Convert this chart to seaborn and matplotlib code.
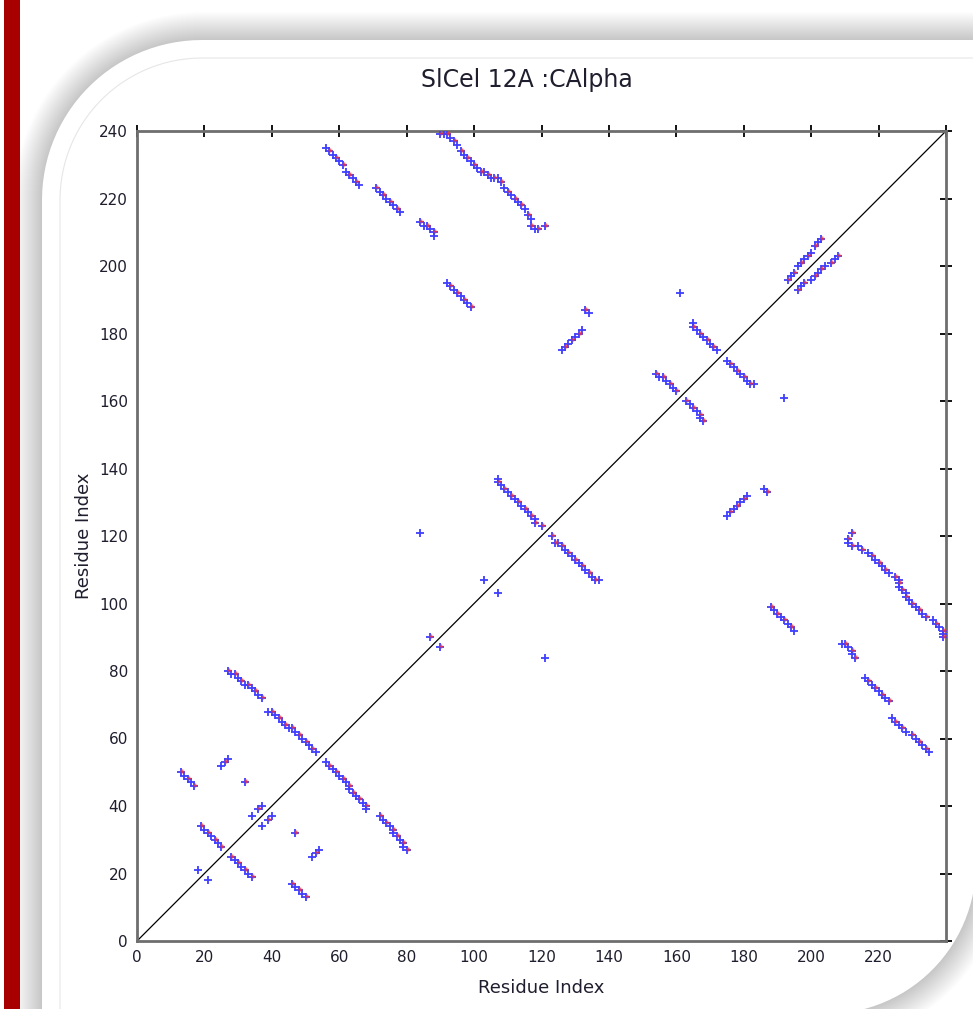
import matplotlib
matplotlib.use("Agg")
import matplotlib.pyplot as plt
import matplotlib.transforms as mtransforms
from matplotlib.patches import PathPatch, Rectangle
from matplotlib.path import Path
from matplotlib.lines import Line2D
import numpy as np
import seaborn as sns
import pandas as pd

# contact pairs (i < j); the map is drawn symmetric
hairpin_a = [(27, 80), (28, 79), (29, 79), (30, 78), (31, 77), (32, 76), (33, 76),
             (34, 75), (35, 74), (36, 73), (37, 72)]
hairpin_b = [(39, 68), (40, 68), (41, 67), (42, 66), (43, 65), (44, 64), (45, 63),
             (46, 63), (47, 62), (48, 61), (49, 60), (50, 59), (51, 58), (52, 57), (53, 56)]
strand_e = [(13, 50), (14, 49), (15, 48), (16, 47), (17, 46)]
strand_f = [(25, 52), (26, 53), (27, 54)]
strand_g = [(19, 34), (20, 33), (21, 32), (22, 31), (23, 30), (24, 29), (25, 28)]
strand_h = [(56, 235), (57, 234), (58, 233), (59, 232), (60, 231), (61, 230), (62, 228),
            (63, 227), (64, 226), (65, 225), (66, 224)]
strand_i = [(71, 223), (72, 222), (73, 221), (74, 220), (75, 219), (76, 218), (77, 217), (78, 216)]
strand_j = [(84, 213), (85, 212), (86, 212), (87, 211), (88, 210), (88, 209)]
strand_k = [(90, 239), (91, 239), (92, 239), (93, 238), (94, 237), (95, 236), (96, 234),
            (97, 233), (98, 232), (99, 231), (100, 230), (101, 229), (102, 228), (103, 228),
            (104, 227), (105, 226), (106, 226), (107, 226), (108, 225), (109, 223), (110, 222),
            (111, 221), (112, 220), (113, 219), (114, 218), (115, 217), (116, 215), (117, 214),
            (117, 212), (118, 211), (119, 211)]
strand_l = [(92, 195), (93, 194), (94, 193), (95, 192), (96, 191), (97, 190), (98, 189), (99, 188)]
strand_m = [(107, 137), (107, 136), (108, 135), (109, 134), (110, 133), (111, 132), (112, 131),
            (113, 130), (114, 129), (115, 128), (116, 127), (117, 126), (118, 125), (118, 124)]
strand_n = [(126, 175), (127, 176), (128, 177), (129, 178), (130, 179), (131, 180), (132, 181)]
strand_o = [(154, 168), (155, 167), (156, 167), (157, 166), (158, 165), (159, 164), (160, 163)]
strand_p = [(165, 183), (165, 182), (166, 181), (167, 180), (168, 179), (169, 178), (170, 177),
            (171, 176), (172, 175)]
helix_q = [(193, 196), (194, 197), (195, 198), (196, 200), (197, 201), (198, 202), (199, 203),
           (200, 204), (201, 206), (202, 207), (203, 208)]
singles = [(18, 21), (32, 47), (34, 37), (36, 39), (37, 40), (87, 90), (103, 107), (120, 123),
           (84, 121), (121, 212), (161, 192), (133, 187), (134, 186)]

x_ticks = [0, 20, 40, 60, 80, 100, 120, 140, 160, 180, 200, 220, 240]
x_tick_labels = ["0", "20", "40", "60", "80", "100", "120", "140", "160", "180", "200", "220", ""]
y_ticks = [0, 20, 40, 60, 80, 100, 120, 140, 160, 180, 200, 220, 240]
y_tick_labels = [str(t) for t in y_ticks]
n_residues = 240

upper = (hairpin_a + hairpin_b + strand_e + strand_f + strand_g + strand_h + strand_i +
         strand_j + strand_k + strand_l + strand_m + strand_n + strand_o + strand_p +
         helix_q + singles)
rows = [(i, j) for i, j in upper] + [(j, i) for i, j in upper]
df = pd.DataFrame(rows, columns=["res_x", "res_y"])

sns.set_style("white")
plt.rcParams["font.family"] = ["DejaVu Sans"]

W, H = 973, 1009
fig = plt.figure(figsize=(W / 100, H / 100), dpi=100)
fig.patch.set_facecolor("white")
px = mtransforms.IdentityTransform()


def card_path(x0, y0, x1, y1, r_tl, r_br):
    # rectangle in pixels, rounded only at top-left and bottom-right
    t = np.linspace(0, np.pi / 2, 30)
    pts = [(x0, y0), (x0, y1 - r_tl)]
    pts += list(zip(x0 + r_tl - r_tl * np.cos(t), y1 - r_tl + r_tl * np.sin(t)))
    pts += [(x1, y1), (x1, y0 + r_br)]
    pts += list(zip(x1 - r_br + r_br * np.cos(t), y0 + r_br - r_br * np.sin(t)))
    pts.append((x0, y0))
    return Path(pts, closed=True)


# card: left 42, top 40, right ~976, bottom ~1014 (top-origin pixels)
cx0, cy0, cx1, cy1 = 42, H - 1014, 976, H - 40
for k in range(28, 0, -1):
    fig.patches.append(PathPatch(card_path(cx0 - k, cy0 - k, cx1 + k, cy1 + k, 160 + k, 150 + k),
                                 facecolor="black", edgecolor="none", alpha=0.009,
                                 transform=px, zorder=-20))
fig.patches.append(PathPatch(card_path(cx0, cy0, cx1, cy1, 160, 150), facecolor="white",
                             edgecolor="none", transform=px, zorder=-10))

# faint inner line: left edge, top-left arc, top edge
t_in = np.linspace(0, np.pi / 2, 30)
r_in = 142
inner_x = [60] + list(60 + r_in - r_in * np.cos(t_in)) + [W + 5]
inner_y = [-5] + list(H - 58 - r_in + r_in * np.sin(t_in)) + [H - 58]
fig.lines.append(Line2D(inner_x, inner_y, color="#e6e6e6", linewidth=0.8,
                        transform=px, zorder=-9))
fig.patches.append(Rectangle((4, 0), 16, H, facecolor="#a80000", edgecolor="none",
                             transform=px, zorder=-5))

ax = fig.add_axes([137 / W, 1 - 941 / H, (946 - 137) / W, (941 - 131) / H])
ax.set_facecolor("none")

ax.plot([0, n_residues], [0, n_residues], color="black", linewidth=0.9, zorder=1)

sns.scatterplot(data=df, x="res_x", y="res_y", ax=ax, marker="+", s=26,
                color="#3f3fff", linewidth=1.3, zorder=3, legend=False)
red_shift = mtransforms.offset_copy(ax.transData, fig=fig, x=1, y=1, units="dots")
sns.scatterplot(data=df.iloc[::2], x="res_x", y="res_y", ax=ax, marker="+", s=12,
                color="#ff2e2e", linewidth=1.0, alpha=0.75, zorder=4, legend=False,
                transform=red_shift)

ax.set_xlim(0, n_residues)
ax.set_ylim(0, n_residues)
ax.set_xticks(x_ticks)
ax.set_xticklabels(x_tick_labels)
ax.set_yticks(y_ticks)
ax.set_yticklabels(y_tick_labels)
ax.tick_params(axis="both", which="both", direction="inout", length=9, width=1.3,
               color="black", top=True, right=True, labelsize=11, pad=2,
               labelcolor="#1e1e2e")
for side in ax.spines.values():
    side.set_color("#6e6e6e")
    side.set_linewidth(2)
ax.set_xlabel("Residue Index", fontsize=13, color="#1e1e2e", labelpad=10)
ax.set_ylabel("Residue Index", fontsize=13, color="#1e1e2e", labelpad=4)

fig.text(527 / W, 1 - 80 / H, "SlCel 12A :CAlpha", ha="center", va="center",
         fontsize=17, color="#1e1e2e")

fig.savefig("out.png", dpi=100, facecolor=fig.get_facecolor())
